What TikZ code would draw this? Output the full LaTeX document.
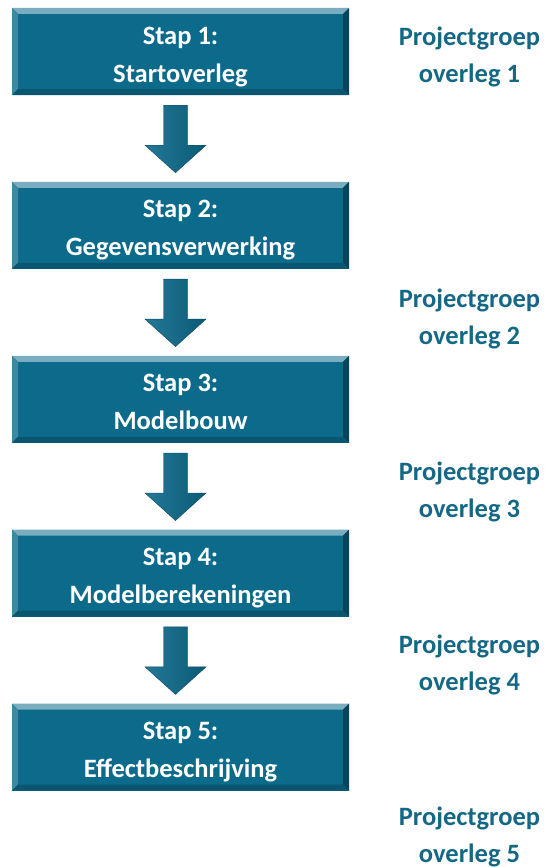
\documentclass[tikz,border=0pt]{standalone}
\usepackage{fontspec}
\setmainfont{Carlito}
\usetikzlibrary{positioning,calc}
\definecolor{stapblauw}{RGB}{12,106,139}
\definecolor{overlegblauw}{RGB}{20,104,134}

\begin{document}
\begin{tikzpicture}[x=1pt,y=1pt,
  stap/.style={fill=stapblauw,minimum width=337pt,minimum height=87pt,inner sep=0pt,
    text=white,font=\bfseries\fontsize{26.5}{38}\selectfont,align=center,
    text height=61pt,text depth=0pt,
    path picture={
      \fill[stapblauw!55!white] (path picture bounding box.north west) -- (path picture bounding box.north east) -- ++(-6,-6) -- ([shift={(6,-6)}]path picture bounding box.north west) -- cycle;
      \fill[stapblauw!80!white] (path picture bounding box.north west) -- ++(6,-6) -- ([shift={(6,6)}]path picture bounding box.south west) -- (path picture bounding box.south west) -- cycle;
      \fill[stapblauw!65!black] (path picture bounding box.north east) -- ++(-6,-6) -- ([shift={(-6,6)}]path picture bounding box.south east) -- (path picture bounding box.south east) -- cycle;
      \fill[stapblauw!80!black] (path picture bounding box.south west) -- ++(6,6) -- ([shift={(-6,6)}]path picture bounding box.south east) -- (path picture bounding box.south east) -- cycle;
    }},
  pijl/.style={left color=stapblauw!90!white,middle color=stapblauw!75!white,right color=stapblauw!85!black,draw=stapblauw!70!black,line width=0.4pt},
  overleg/.style={text=overlegblauw,font=\bfseries\fontsize{26.5}{37}\selectfont,align=center,inner sep=0pt,
    text height=61pt,text depth=0pt}]
\useasboundingbox (0,0) rectangle (544,-867);

% stappen
\node[stap] (s1) at (180.5,-51.5) {Stap 1:\\Startoverleg};
\node[stap,below=86.5pt of s1] (s2) {Stap 2:\\Gegevensverwerking};
\node[stap,below=86.5pt of s2] (s3) {Stap 3:\\Modelbouw};
\node[stap,below=86.5pt of s3] (s4) {Stap 4:\\Modelberekeningen};
\node[stap,below=86.5pt of s4] (s5) {Stap 5:\\Effectbeschrijving};

% pijlen tussen de stappen
\foreach \a/\b in {s1/s2,s2/s3,s3/s4,s4/s5}
  \shade[pijl] ([shift={(-17,-10)}]\a.south) -- ++(24,0) -- ++(0,-40) -- ++(18.5,0)
    -- ([shift={(-5,9)}]\b.north) -- ([shift={(-35.5,-50)}]\a.south) -- ++(18.5,0) -- cycle;

% projectgroep overleggen
\node[overleg] (g1) at (469.5,-51.5) {Projectgroep\\overleg 1};
\node[overleg] (g2) at ([yshift=-89pt]s2.center -| g1) {Projectgroep\\overleg 2};
\node[overleg] (g3) at ([yshift=-88pt]s3.center -| g1) {Projectgroep\\overleg 3};
\node[overleg] (g4) at ([yshift=-87pt]s4.center -| g1) {Projectgroep\\overleg 4};
\node[overleg] (g5) at ([yshift=-85pt]s5.center -| g1) {Projectgroep\\overleg 5};
\end{tikzpicture}
\end{document}
